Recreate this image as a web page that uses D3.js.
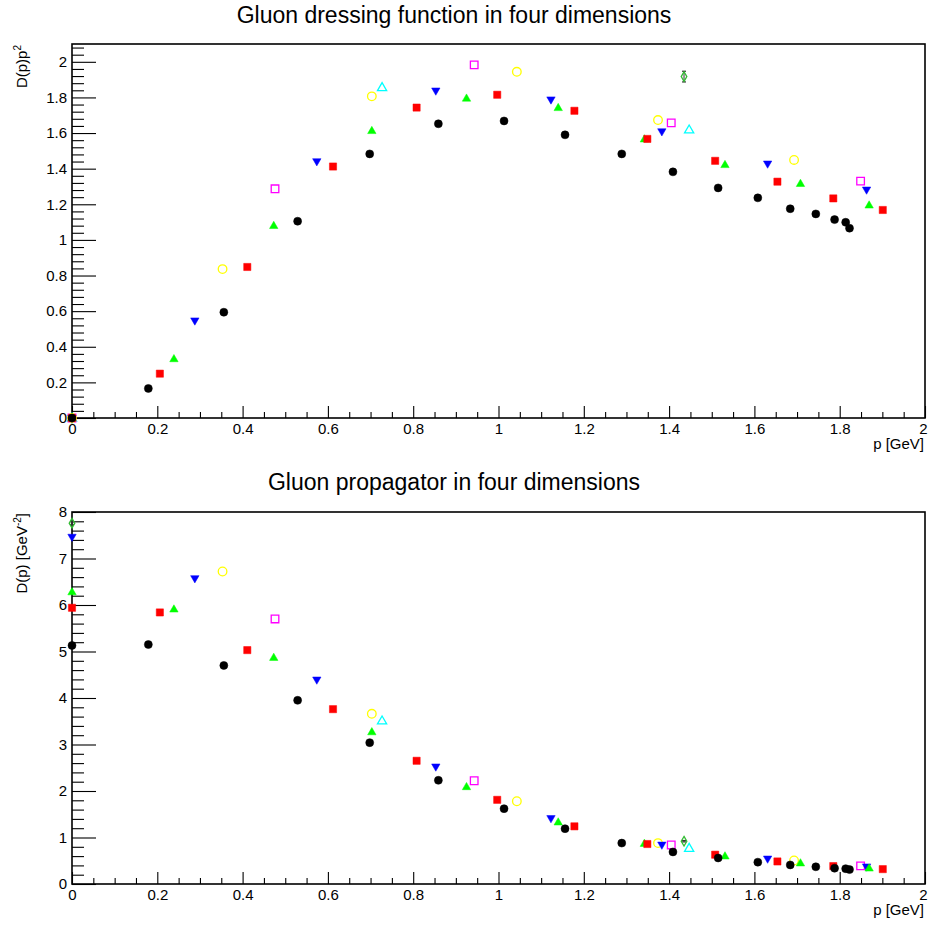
<!DOCTYPE html>
<html><head><meta charset="utf-8">
<script src="https://cdn.jsdelivr.net/npm/d3@7"></script>
<style>
body{margin:0;background:#fff}
svg{display:block}
text{font-family:"Liberation Sans",Arial,Helvetica,sans-serif;fill:#000}
</style>
</head><body>
<svg id="c" width="928" height="925"></svg>
<script>
// ---------------- data ----------------
const titleTop = "Gluon dressing function in four dimensions";
const titleBottom = "Gluon propagator in four dimensions";
const xTicks = [0, 0.2, 0.4, 0.6, 0.8, 1, 1.2, 1.4, 1.6, 1.8, 2];
const yTicksTop = [0, 0.2, 0.4, 0.6, 0.8, 1, 1.2, 1.4, 1.6, 1.8, 2];
const yTicksBottom = [0, 1, 2, 3, 4, 5, 6, 7, 8];

// black filled circles
const pBlack = [0, 0.179, 0.356, 0.529, 0.698, 0.859, 1.013, 1.156, 1.289, 1.409, 1.515, 1.608, 1.684, 1.744, 1.788, 1.814, 1.823];
const dressBlack = [0, 0.166, 0.594, 1.105, 1.483, 1.652, 1.668, 1.590, 1.483, 1.382, 1.292, 1.236, 1.175, 1.146, 1.114, 1.099, 1.066];
const propBlack = [5.13, 5.15, 4.70, 3.95, 3.04, 2.23, 1.62, 1.19, 0.88, 0.69, 0.56, 0.47, 0.41, 0.37, 0.34, 0.33, 0.31];
// red filled squares
const pRed = [0, 0.206, 0.411, 0.612, 0.808, 0.997, 1.178, 1.349, 1.508, 1.654, 1.785, 1.901];
const dressRed = [0, 0.249, 0.848, 1.412, 1.743, 1.815, 1.725, 1.567, 1.444, 1.327, 1.233, 1.168];
const propRed = [5.94, 5.84, 5.03, 3.76, 2.65, 1.81, 1.24, 0.86, 0.63, 0.485, 0.385, 0.32];
// green filled triangles (up)
const pGreen = [0, 0.239, 0.473, 0.703, 0.925, 1.140, 1.342, 1.531, 1.708, 1.869];
const dressGreen = [0, 0.332, 1.080, 1.613, 1.795, 1.742, 1.566, 1.422, 1.316, 1.195];
const propGreen = [6.28, 5.91, 4.87, 3.27, 2.09, 1.33, 0.87, 0.60, 0.45, 0.34];
// blue filled triangles (down)
const pBlue = [0, 0.288, 0.574, 0.853, 1.123, 1.383, 1.631, 1.863];
const dressBlue = [0, 0.546, 1.440, 1.837, 1.787, 1.608, 1.427, 1.281];
const propBlue = [7.46, 6.57, 4.39, 2.52, 1.41, 0.84, 0.54, 0.37];
// yellow open circles (p = 0 propagator value off scale)
const pYellow = [0, 0.353, 0.703, 1.043, 1.374, 1.693];
const dressYellow = [0, 0.836, 1.806, 1.944, 1.673, 1.449];
const propYellow = [null, 6.72, 3.66, 1.78, 0.88, 0.505];
// magenta open squares
const pMagenta = [0, 0.476, 0.943, 1.405, 1.849];
const dressMagenta = [0, 1.287, 1.983, 1.657, 1.330];
const propMagenta = [null, 5.70, 2.22, 0.84, 0.39];
// cyan open triangles
const pCyan = [0, 0.727, 1.447];
const dressCyan = [0, 1.856, 1.618];
const propCyan = [null, 3.51, 0.77];
// green open diamonds with error bars
const pDiamond = [0, 1.435];
const dressDiamond = [0, 1.917];
const dressDiamondErr = [0, 0.03];
const propDiamond = [7.76, 0.92];
const propDiamondErr = [0.03, 0.015];

// ---------------- layout ----------------
const svg = d3.select("#c");
const L = 72, R = 925;
const panels = [
  {top: 44, bot: 418, ymax: 2.1, yTicks: yTicksTop, yMinorStep: 0.04, title: titleTop, titleY: 23,
   ylab: [["D(p)p", 0], ["2", -1]], which: "dress"},
  {top: 512, bot: 884, ymax: 8, yTicks: yTicksBottom, yMinorStep: 0.2, title: titleBottom, titleY: 490,
   ylab: [["D(p) [GeV", 0], ["-2", -1], ["]", 1]], which: "prop"}
];

const series = [
  {name: "diamond", p: pDiamond, dress: dressDiamond, prop: propDiamond, dressErr: dressDiamondErr, propErr: propDiamondErr, shape: "diamond", color: "#33bb33", fill: false},
  {name: "cyan", p: pCyan, dress: dressCyan, prop: propCyan, shape: "triUp", color: "#00ffff", fill: false},
  {name: "magenta", p: pMagenta, dress: dressMagenta, prop: propMagenta, shape: "square", color: "#ff00ff", fill: false},
  {name: "yellow", p: pYellow, dress: dressYellow, prop: propYellow, shape: "circle", color: "#ffff00", fill: false},
  {name: "blue", p: pBlue, dress: dressBlue, prop: propBlue, shape: "triDown", color: "#0000ff", fill: true},
  {name: "green", p: pGreen, dress: dressGreen, prop: propGreen, shape: "triUp", color: "#00ff00", fill: true},
  {name: "red", p: pRed, dress: dressRed, prop: propRed, shape: "square", color: "#ff0000", fill: true},
  {name: "black", p: pBlack, dress: dressBlack, prop: propBlack, shape: "circle", color: "#000000", fill: true}
];

function shapePath(shape, fill) {
  const p = d3.path();
  if (shape === "circle") {
    const r = fill ? 4 : 4.3;
    p.moveTo(r, 0); p.arc(0, 0, r, 0, 2 * Math.PI);
  } else if (shape === "square") {
    const h = fill ? 3.6 : 3.8;
    p.rect(-h, -h, 2 * h, 2 * h);
  } else if (shape === "triUp") {
    const w = fill ? 4.2 : 4.6, t = fill ? 4.4 : 4.8;
    p.moveTo(0, -t); p.lineTo(w, t * 0.65); p.lineTo(-w, t * 0.65); p.closePath();
  } else if (shape === "triDown") {
    const w = 4.2, t = 4.4;
    p.moveTo(0, t); p.lineTo(w, -t * 0.65); p.lineTo(-w, -t * 0.65); p.closePath();
  } else if (shape === "diamond") {
    p.moveTo(0, -4.8); p.lineTo(2.8, 0); p.lineTo(0, 4.8); p.lineTo(-2.8, 0); p.closePath();
  }
  return p.toString();
}

const x = d3.scaleLinear().domain([0, 2]).range([L, R]);
const xMinor = d3.range(0, 2.0001, 0.05).map(v => +v.toFixed(2)).filter(v => !xTicks.some(t => Math.abs(t - v) < 1e-6));
const fmt = d => String(+(+d).toFixed(2));

panels.forEach(pn => {
  const y = d3.scaleLinear().domain([0, pn.ymax]).range([pn.bot, pn.top]);
  const g = svg.append("g");
  const hgt = pn.bot - pn.top;

  // title
  g.append("text").attr("x", 454).attr("y", pn.titleY).attr("text-anchor", "middle")
    .attr("font-size", 23).text(pn.title);

  // frame
  g.append("rect").attr("x", L).attr("y", pn.top).attr("width", R - L).attr("height", hgt)
    .attr("fill", "none").attr("stroke", "#000").attr("stroke-width", 1.6);

  // x axis major
  const xa = g.append("g").attr("transform", `translate(0,${pn.bot})`)
    .call(d3.axisBottom(x).tickValues(xTicks).tickFormat(fmt).tickSizeInner(-12).tickSizeOuter(0).tickPadding(5));
  xa.select(".domain").remove();
  xa.selectAll("text").attr("font-size", 15).attr("font-family", "Liberation Sans, Arial, sans-serif");
  // keep the last label ("2") inside the page, as in the reference
  xa.selectAll(".tick").filter(d => d === 2).select("text").attr("text-anchor", "end").attr("x", 2);
  const xm = g.append("g").attr("transform", `translate(0,${pn.bot})`)
    .call(d3.axisBottom(x).tickValues(xMinor).tickFormat(() => "").tickSizeInner(-6).tickSizeOuter(0));
  xm.select(".domain").remove();

  // y axis major
  const ya = g.append("g").attr("transform", `translate(${L},0)`)
    .call(d3.axisLeft(y).tickValues(pn.yTicks).tickFormat(fmt).tickSizeInner(-24).tickSizeOuter(0).tickPadding(5));
  ya.select(".domain").remove();
  ya.selectAll("text").attr("font-size", 15).attr("font-family", "Liberation Sans, Arial, sans-serif");
  const yMinor = d3.range(0, pn.ymax + 1e-6, pn.yMinorStep).map(v => +v.toFixed(3))
    .filter(v => !pn.yTicks.some(t => Math.abs(t - v) < 1e-6));
  const ym = g.append("g").attr("transform", `translate(${L},0)`)
    .call(d3.axisLeft(y).tickValues(yMinor).tickFormat(() => "").tickSizeInner(-12).tickSizeOuter(0));
  ym.select(".domain").remove();
  g.selectAll(".tick line").attr("stroke-width", 1.1);

  // x title
  g.append("text").attr("x", R - 1).attr("y", pn.bot + 31).attr("text-anchor", "end")
    .attr("font-size", 15).text("p [GeV]");

  // y title (rotated)
  const yt = g.append("text").attr("transform", `translate(27,${pn.top + 1}) rotate(-90)`)
    .attr("text-anchor", "end").attr("font-size", 15);
  pn.ylab.forEach(([t, lvl]) => {
    const ts = yt.append("tspan").text(t);
    if (lvl === -1) ts.attr("font-size", 10).attr("dy", -6);
    if (lvl === 1) ts.attr("dy", 6);
  });

  // markers
  series.forEach(s => {
    const vals = s[pn.which];
    const errs = s[pn.which + "Err"];
    const pts = s.p.map((pv, i) => ({p: pv, v: vals[i], e: errs ? errs[i] : 0}))
      .filter(d => d.v !== null && d.v <= pn.ymax);
    const sg = g.append("g");
    if (errs) {
      pts.filter(d => d.e > 0).forEach(d => {
        const cx = x(d.p), y1 = y(d.v + d.e), y2 = y(d.v - d.e);
        sg.append("line").attr("x1", cx).attr("x2", cx).attr("y1", y1).attr("y2", y2)
          .attr("stroke", "#333").attr("stroke-width", 1);
        [y1, y2].forEach(yy => sg.append("line").attr("x1", cx - 2).attr("x2", cx + 2)
          .attr("y1", yy).attr("y2", yy).attr("stroke", "#333").attr("stroke-width", 1.2));
      });
    }
    sg.selectAll("path").data(pts).join("path")
      .attr("d", shapePath(s.shape, s.fill))
      .attr("transform", d => `translate(${x(d.p)},${y(d.v)})`)
      .attr("fill", s.fill ? s.color : "none")
      .attr("stroke", s.color)
      .attr("stroke-width", s.fill ? 0.5 : 1.3);
  });
});
</script>
</body></html>
